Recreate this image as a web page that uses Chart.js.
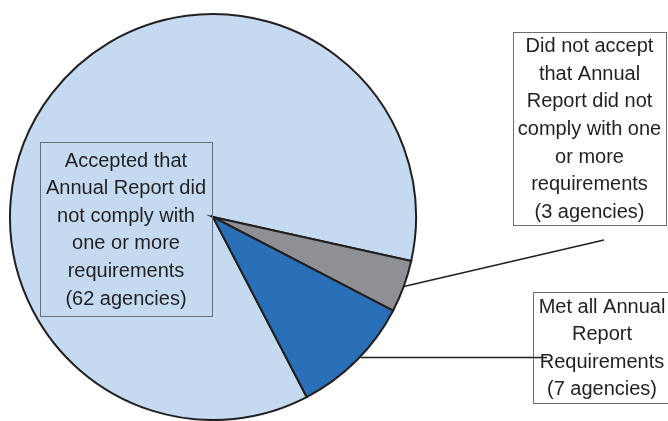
<!DOCTYPE html>
<html>
<head>
<meta charset="utf-8">
<script src="https://cdn.jsdelivr.net/npm/chart.js@4/dist/chart.umd.min.js"></script>
<style>
  html, body { margin: 0; padding: 0; background: #ffffff; }
  #wrap { width: 668px; height: 421px; position: relative; }
</style>
</head>
<body>
<div id="wrap"><canvas id="pie" width="668" height="421"></canvas></div>
<script>
  // Agency responses to the annual report review
  const categories = [
    'Accepted that Annual Report did not comply with one or more requirements',
    'Did not accept that Annual Report did not comply with one or more requirements',
    'Met all Annual Report Requirements'
  ];
  const agencies = [62, 3, 7];
  const sliceColors = ['#c3daf0', '#8e9095', '#2a70b9'];

  // Label text, one line per entry
  const labelLines = [
    ['Accepted that', 'Annual Report did', 'not comply with', 'one or more', 'requirements', '(62 agencies)'],
    ['Did not accept', 'that Annual', 'Report did not', 'comply with one', 'or more', 'requirements', '(3 agencies)'],
    ['Met all Annual', 'Report', 'Requirements', '(7 agencies)']
  ];

  // box placement for each label
  const boxes = [
    { x: 40, y: 142, w: 172, h: 174, fill: null, leader: false },
    { x: 513, y: 32, w: 153, h: 193, fill: '#ffffff', leader: 'slant', to: [604, 240] },
    { x: 533, y: 292, w: 138, h: 111, fill: '#ffffff', leader: 'flat', to: [547, 0] }
  ];

  const calloutPlugin = {
    id: 'callouts',
    afterDraw(chart) {
      const ctx = chart.ctx;
      const meta = chart.getDatasetMeta(0);
      ctx.save();
      ctx.font = '20px "Liberation Sans", Arial, sans-serif';
      ctx.textAlign = 'center';
      ctx.textBaseline = 'middle';
      const lineH = 27.6;
      boxes.forEach((b, i) => {
        const arc = meta.data[i];
        // leader line from slice edge to the box
        if (b.leader) {
          const mid = (arc.startAngle + arc.endAngle) / 2;
          const ax = arc.x + Math.cos(mid) * arc.outerRadius;
          const ay = arc.y + Math.sin(mid) * arc.outerRadius;
          ctx.strokeStyle = '#231f20';
          ctx.lineWidth = 1.5;
          ctx.beginPath();
          if (b.leader === 'slant') {
            ctx.moveTo(ax, ay);
            ctx.lineTo(b.to[0], b.to[1]);
          } else {
            ctx.moveTo(ax + 4, ay - 3);
            ctx.lineTo(b.to[0], ay - 3);
          }
          ctx.stroke();
        }
        if (b.fill) {
          ctx.fillStyle = b.fill;
          ctx.fillRect(b.x, b.y, b.w, b.h);
        }
        ctx.strokeStyle = '#6d6e71';
        ctx.lineWidth = 1;
        ctx.strokeRect(b.x + 0.5, b.y + 0.5, b.w, b.h);
        if (b.leader === 'flat') {
          const mid = (arc.startAngle + arc.endAngle) / 2;
          const ay = arc.y + Math.sin(mid) * arc.outerRadius - 3;
          ctx.strokeStyle = '#231f20';
          ctx.lineWidth = 1.5;
          ctx.beginPath();
          ctx.moveTo(b.x, ay);
          ctx.lineTo(b.to[0], ay);
          ctx.stroke();
        }
        ctx.fillStyle = '#231f20';
        const lines = labelLines[i];
        const cx = b.x + b.w / 2;
        const top = b.y + b.h / 2 - (lines.length - 1) * lineH / 2;
        lines.forEach((t, k) => ctx.fillText(t, cx, top + k * lineH + 1));
      });
      ctx.restore();
    }
  };

  new Chart(document.getElementById('pie').getContext('2d'), {
    type: 'pie',
    data: {
      labels: categories,
      datasets: [{
        data: agencies,
        backgroundColor: sliceColors,
        borderColor: '#231f20',
        borderWidth: 2,
        borderJoinStyle: 'miter'
      }]
    },
    options: {
      responsive: false,
      animation: false,
      rotation: 152.5,
      radius: 203,
      layout: { padding: { left: 9, top: 13, right: 251, bottom: 0 } },
      plugins: {
        legend: { display: false },
        tooltip: { enabled: false }
      }
    },
    plugins: [calloutPlugin]
  });
</script>
</body>
</html>
